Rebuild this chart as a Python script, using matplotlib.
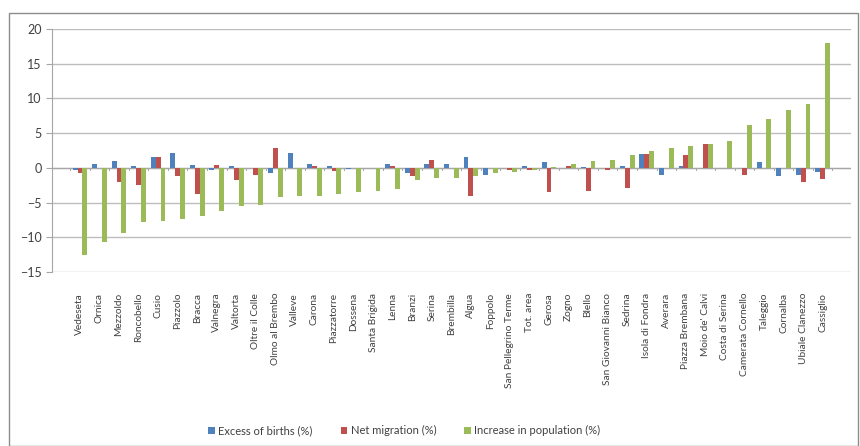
import matplotlib.pyplot as plt
import numpy as np
from matplotlib.patches import Rectangle

plt.rcParams['font.family'] = ['Lato', 'DejaVu Sans']

municipalities = [
    "Vedeseta", "Ornica", "Mezzoldo", "Roncobello", "Cusio", "Piazzolo", "Bracca",
    "Valnegra", "Valtorta", "Oltre il Colle", "Olmo al Brembo", "Valleve", "Carona",
    "Piazzatorre", "Dossena", "Santa Brigida", "Lenna", "Branzi", "Serina", "Brembilla",
    "Algua", "Foppolo", "San Pellegrino Terme", "Tot. area", "Gerosa", "Zogno", "Blello",
    "San Giovanni Bianco", "Sedrina", "Isola di Fondra", "Averara", "Piazza Brembana",
    "Moio de' Calvi", "Costa di Serina", "Camerata Cornello", "Taleggio", "Cornalba",
    "Ubiale Clanezzo", "Cassiglio",
]
excess_births = [
    -0.3, 0.5, 1.0, 0.3, 1.5, 2.1, 0.4, -0.3, 0.2, 0.0, -0.8, 2.2, 0.5,
    0.2, -0.2, 0.0, 0.5, -0.8, 0.5, 0.5, 1.5, -1.0, 0.0, 0.2, 0.8, 0.0, 0.1,
    0.0, 0.3, 2.0, -1.0, 0.3, 0.0, 0.0, 0.0, 0.8, -1.2, -1.0, -0.6,
]
net_migration = [
    -0.7, 0.0, -2.0, -2.4, 1.5, -1.2, -3.8, 0.4, -1.7, -1.0, 2.8, 0.0, 0.2,
    -0.5, 0.0, 0.0, 0.3, -1.2, 1.1, 0.0, -4.0, 0.0, -0.3, -0.3, -3.5, 0.3, -3.4,
    -0.3, -2.9, 2.0, 0.0, 1.9, 3.4, 0.0, -1.0, 0.0, 0.0, -2.1, -1.6,
]
population_increase = [
    -12.5, -10.7, -9.4, -7.8, -7.6, -7.3, -7.0, -6.2, -5.5, -5.4, -4.2, -4.1, -4.0,
    -3.8, -3.5, -3.4, -3.0, -1.8, -1.5, -1.5, -1.2, -0.8, -0.6, -0.3, 0.1, 0.6, 1.0,
    1.2, 1.9, 2.4, 2.9, 3.2, 3.4, 3.9, 6.2, 7.1, 8.3, 9.2, 18.0,
]

series = [
    ("Excess of births (%)", excess_births, "#4F81BD"),
    ("Net migration (%)", net_migration, "#C0504D"),
    ("Increase in population (%)", population_increase, "#9BBB59"),
]

fig = plt.figure(figsize=(8.6, 4.46), dpi=100)
ax = fig.add_axes([52 / 860, (446 - 272) / 446, (851 - 52) / 860, (272 - 29) / 446])

x = np.arange(len(municipalities))
width = 0.25
for k, (label, values, color) in enumerate(series):
    ax.bar(x + (k - 1) * width, values, width, color=color, label=label, zorder=3)

ax.set_ylim(-15, 20)
ax.set_yticks(range(-15, 21, 5))
ax.set_xlim(-1.43, 39.45)
ax.grid(axis='y', color='#BDBDBD', linewidth=1.0, zorder=0)
ax.axhline(0, color='#A6A6A6', linewidth=0.9, zorder=2)
for side in ('top', 'right', 'bottom'):
    ax.spines[side].set_visible(False)
ax.spines['left'].set_color('#A6A6A6')

ax.set_xticks(x)
ax.set_xticklabels(municipalities, rotation=90, fontsize=7.3, color='#404040')
ax.tick_params(axis='x', length=0, pad=15)
ax.tick_params(axis='y', labelsize=9, colors='#404040', length=4, color='#A6A6A6')

# small category ticks on the zero axis
for xi in np.arange(-0.5, len(municipalities), 1.0):
    ax.plot([xi, xi], [0, -0.35], color='#A6A6A6', linewidth=0.7, zorder=2)

fig.legend(loc='lower center', bbox_to_anchor=(0.47, 0.0), ncol=3, frameon=False,
           fontsize=8, handlelength=0.6, handleheight=0.6, columnspacing=2.5,
           handletextpad=0.3, labelcolor='#404040')

fig.patches.append(Rectangle((9 / 860, 0.0), (858 - 9) / 860, (446 - 13) / 446,
                             transform=fig.transFigure, fill=False,
                             edgecolor='#8C8C8C', linewidth=1.0))

fig.savefig("out.png", dpi=100)
